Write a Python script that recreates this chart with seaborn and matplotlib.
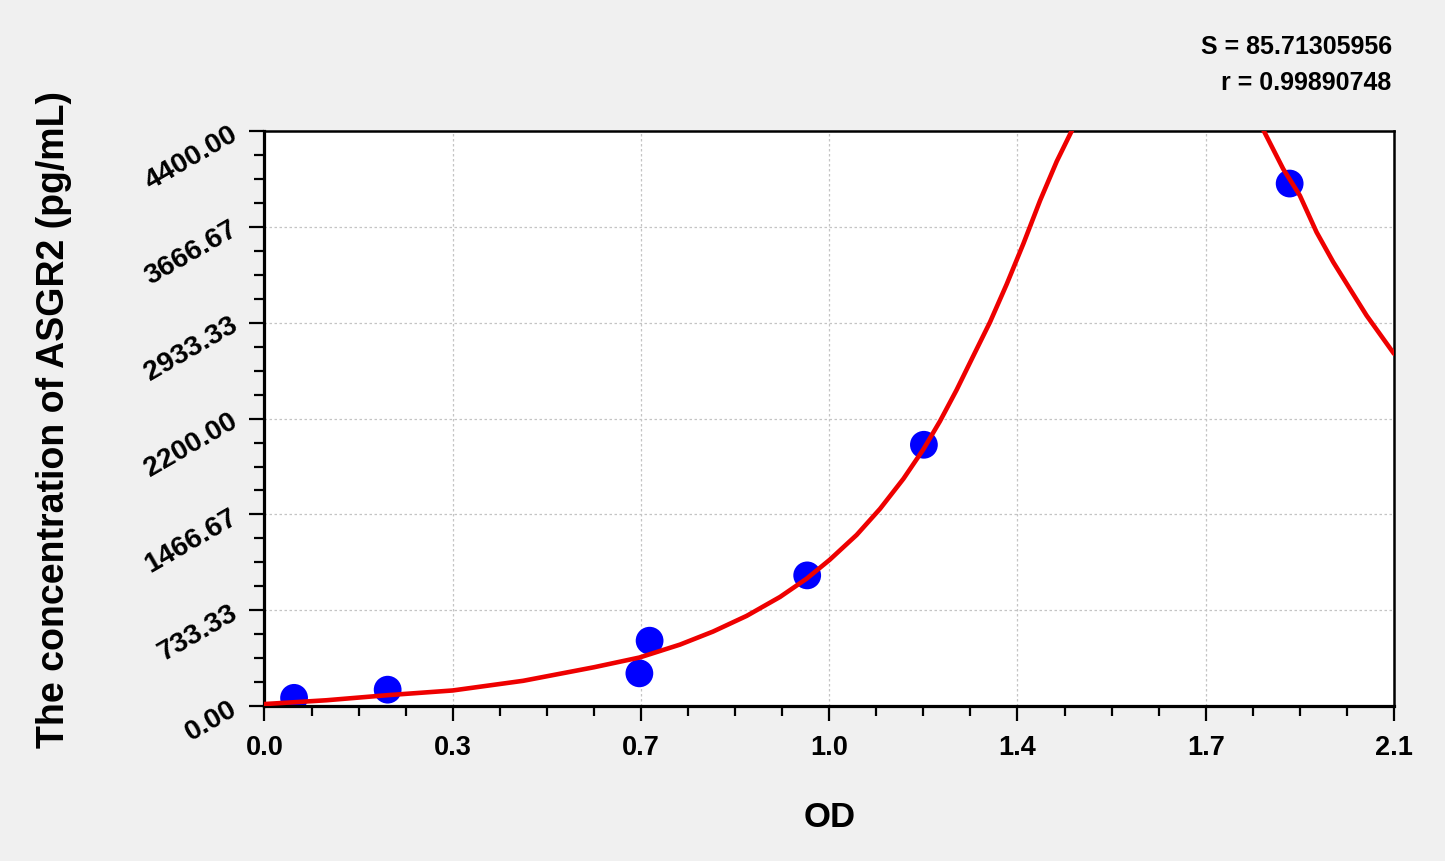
import matplotlib
matplotlib.use('Agg')
import numpy as np
import pandas as pd
import matplotlib.pyplot as plt
import seaborn as sns
from matplotlib.ticker import AutoMinorLocator

# standard points (OD vs concentration)
od = [0.055, 0.229, 0.697, 0.716, 1.009, 1.226, 1.906]
conc = [62.5, 125, 250, 500, 1000, 2000, 4000]

# fitted curve (it leaves the frame between 1.5 and 1.85)
curve_left_x = [0.0, 0.115, 0.229, 0.35, 0.481, 0.613, 0.697, 0.7725, 0.834,
                0.8965, 0.9585, 1.008, 1.051, 1.101, 1.1445, 1.188, 1.225,
                1.2558, 1.2868, 1.3178, 1.349, 1.380, 1.411, 1.442, 1.473, 1.504]
curve_left_y = [15, 44, 83, 119, 193, 297, 371, 470, 570,
                690, 835, 975, 1120, 1310, 1510, 1740, 1965,
                2180, 2420, 2680, 2940, 3230, 3540, 3870, 4170, 4430]
curve_right_x = [1.854, 1.894, 1.925, 1.956, 1.987, 2.018, 2.049, 2.1]
curve_right_y = [4435, 4112, 3908, 3628, 3399, 3194, 2990, 2697]

x_ticks = [0.0, 0.35, 0.7, 1.05, 1.4, 1.75, 2.1]
x_tick_labels = ['0.0', '0.3', '0.7', '1.0', '1.4', '1.7', '2.1']
y_ticks = [0.0, 733.33, 1466.67, 2200.0, 2933.33, 3666.67, 4400.0]
y_tick_labels = ['0.00', '733.33', '1466.67', '2200.00', '2933.33', '3666.67', '4400.00']

stats = ['S = 85.71305956', 'r = 0.99890748']

points = pd.DataFrame({'OD': od, 'conc': conc})
curve = pd.DataFrame({
    'OD': curve_left_x + curve_right_x,
    'conc': curve_left_y + curve_right_y,
    'branch': ['a'] * len(curve_left_x) + ['b'] * len(curve_right_x),
})

sns.set_style('ticks')
plt.rcParams['font.family'] = ['Liberation Sans', 'DejaVu Sans']
plt.rcParams['text.color'] = 'black'
plt.rcParams['axes.labelcolor'] = 'black'
plt.rcParams['xtick.color'] = 'black'
plt.rcParams['ytick.color'] = 'black'

fig = plt.figure(figsize=(14.45, 8.62), dpi=100, facecolor='#f0f0f0')
ax = fig.add_axes([0.18304, 0.17981, 0.78166, 0.66671])
ax.set_facecolor('white')

sns.scatterplot(data=points, x='OD', y='conc', color='#0000ff', s=400,
                edgecolor='none', zorder=2, ax=ax, legend=False)
sns.lineplot(data=curve, x='OD', y='conc', units='branch', estimator=None,
             sort=False, color='#ee0000', linewidth=3.3, zorder=3, ax=ax,
             legend=False)

ax.set_xlim(0, 2.1)
ax.set_ylim(0, 4400)
ax.set_xticks(x_ticks)
ax.set_xticklabels(x_tick_labels, fontsize=19.5, fontweight='bold')
ax.set_yticks(y_ticks)
ax.set_yticklabels(y_tick_labels, fontsize=20.5, fontweight='bold', rotation=30,
                   ha='right', va='center', rotation_mode='anchor')
ax.xaxis.set_minor_locator(AutoMinorLocator(4))
ax.yaxis.set_minor_locator(AutoMinorLocator(4))
ax.tick_params(which='major', direction='out', length=11, width=1.6, color='black')
ax.tick_params(which='minor', direction='out', length=7, width=1.6, color='black')
ax.tick_params(axis='x', which='major', pad=9)
ax.tick_params(axis='y', which='major', pad=10)

ax.grid(True, which='major', color='#c4c4c4', linestyle=(0, (2, 2)), linewidth=0.9)
ax.set_axisbelow(True)

for side in ['top', 'right']:
    ax.spines[side].set_linewidth(1.8)
    ax.spines[side].set_color('black')
for side in ['left', 'bottom']:
    ax.spines[side].set_linewidth(2.3)
    ax.spines[side].set_color('black')

ax.set_xlabel('OD', fontsize=25, fontweight='bold', va='center')
ax.xaxis.set_label_coords(0.5, -0.193)
ax.set_ylabel('The concentration of ASGR2 (pg/mL)', fontsize=27,
              fontweight='bold', va='center')
ax.yaxis.set_label_coords(-0.1865, 0.5)

ax.text(0.998, 1.148, stats[0], transform=ax.transAxes, ha='right',
        va='center', fontsize=18, fontweight='bold')
ax.text(0.998, 1.086, stats[1], transform=ax.transAxes, ha='right',
        va='center', fontsize=18, fontweight='bold')

fig.savefig('out.png', dpi=100, facecolor=fig.get_facecolor())
